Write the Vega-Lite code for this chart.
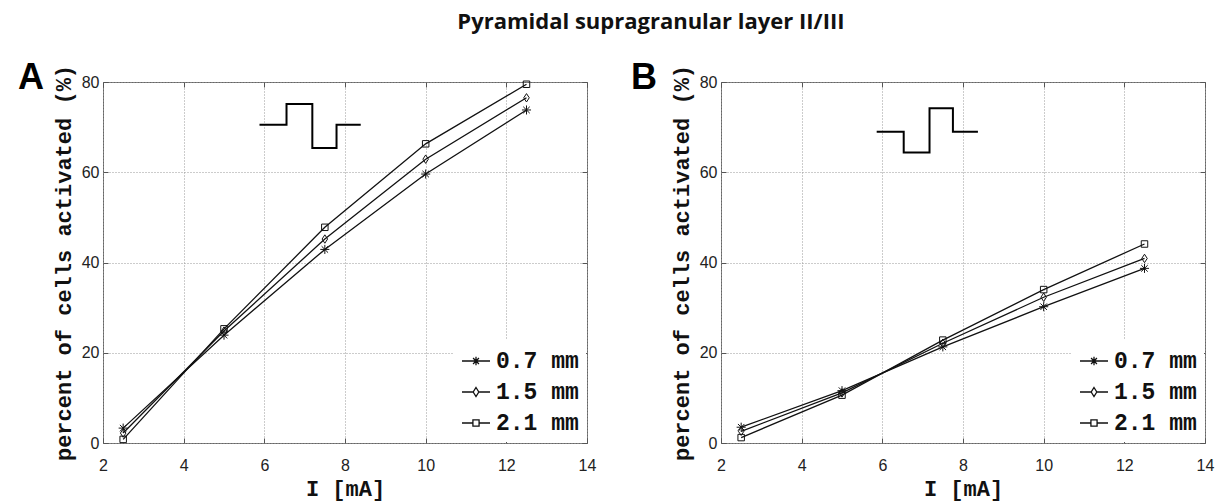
{
  "$schema": "https://vega.github.io/schema/vega-lite/v6.json",
  "background": "white",
  "padding": {"left": 17, "top": 10, "right": 5, "bottom": 2},
  "title": {"text": "Pyramidal supragranular  layer II/III", "font": "Open Sans", "fontSize": 22, "fontWeight": "bold", "color": "#111", "offset": 26, "anchor": "middle", "dx": 35},
  "datasets": {
    "curves": [
      {"panel": "A", "dist": "0.7 mm", "I": 2.5, "pct": 3.3},
      {"panel": "A", "dist": "0.7 mm", "I": 5, "pct": 23.9},
      {"panel": "A", "dist": "0.7 mm", "I": 7.5, "pct": 42.9},
      {"panel": "A", "dist": "0.7 mm", "I": 10, "pct": 59.6},
      {"panel": "A", "dist": "0.7 mm", "I": 12.5, "pct": 73.8},
      {"panel": "A", "dist": "1.5 mm", "I": 2.5, "pct": 2.2},
      {"panel": "A", "dist": "1.5 mm", "I": 5, "pct": 24.8},
      {"panel": "A", "dist": "1.5 mm", "I": 7.5, "pct": 45.2},
      {"panel": "A", "dist": "1.5 mm", "I": 10, "pct": 62.9},
      {"panel": "A", "dist": "1.5 mm", "I": 12.5, "pct": 76.5},
      {"panel": "A", "dist": "2.1 mm", "I": 2.5, "pct": 0.8},
      {"panel": "A", "dist": "2.1 mm", "I": 5, "pct": 25.3},
      {"panel": "A", "dist": "2.1 mm", "I": 7.5, "pct": 47.8},
      {"panel": "A", "dist": "2.1 mm", "I": 10, "pct": 66.3},
      {"panel": "A", "dist": "2.1 mm", "I": 12.5, "pct": 79.5},
      {"panel": "B", "dist": "0.7 mm", "I": 2.5, "pct": 3.5},
      {"panel": "B", "dist": "0.7 mm", "I": 5, "pct": 11.6},
      {"panel": "B", "dist": "0.7 mm", "I": 7.5, "pct": 21.3},
      {"panel": "B", "dist": "0.7 mm", "I": 10, "pct": 30.2},
      {"panel": "B", "dist": "0.7 mm", "I": 12.5, "pct": 38.7},
      {"panel": "B", "dist": "1.5 mm", "I": 2.5, "pct": 2.6},
      {"panel": "B", "dist": "1.5 mm", "I": 5, "pct": 11.1},
      {"panel": "B", "dist": "1.5 mm", "I": 7.5, "pct": 22.1},
      {"panel": "B", "dist": "1.5 mm", "I": 10, "pct": 32.3},
      {"panel": "B", "dist": "1.5 mm", "I": 12.5, "pct": 40.9},
      {"panel": "B", "dist": "2.1 mm", "I": 2.5, "pct": 1.2},
      {"panel": "B", "dist": "2.1 mm", "I": 5, "pct": 10.6},
      {"panel": "B", "dist": "2.1 mm", "I": 7.5, "pct": 22.8},
      {"panel": "B", "dist": "2.1 mm", "I": 10, "pct": 34.0},
      {"panel": "B", "dist": "2.1 mm", "I": 12.5, "pct": 44.1}
    ],
    "icons": [
      {"panel": "A", "seq": 1, "I": 5.88, "pct": 70.5},
      {"panel": "A", "seq": 2, "I": 6.55, "pct": 70.5},
      {"panel": "A", "seq": 3, "I": 6.55, "pct": 75.1},
      {"panel": "A", "seq": 4, "I": 7.19, "pct": 75.1},
      {"panel": "A", "seq": 5, "I": 7.19, "pct": 65.4},
      {"panel": "A", "seq": 6, "I": 7.79, "pct": 65.4},
      {"panel": "A", "seq": 7, "I": 7.79, "pct": 70.5},
      {"panel": "A", "seq": 8, "I": 8.39, "pct": 70.5},
      {"panel": "B", "seq": 1, "I": 5.86, "pct": 69.0},
      {"panel": "B", "seq": 2, "I": 6.53, "pct": 69.0},
      {"panel": "B", "seq": 3, "I": 6.53, "pct": 64.4},
      {"panel": "B", "seq": 4, "I": 7.17, "pct": 64.4},
      {"panel": "B", "seq": 5, "I": 7.17, "pct": 74.2},
      {"panel": "B", "seq": 6, "I": 7.75, "pct": 74.2},
      {"panel": "B", "seq": 7, "I": 7.75, "pct": 69.0},
      {"panel": "B", "seq": 8, "I": 8.37, "pct": 69.0}
    ]
  },
  "spacing": 33,
  "resolve": {"scale": {"shape": "independent"}, "legend": {"shape": "independent"}},
  "hconcat": [
    {
      "width": 484, "height": 361,
      "title": {"text": "A", "anchor": "start", "frame": "group", "dx": -85, "dy": 61, "offset": 0, "baseline": "alphabetic", "fontSize": 36, "font": "Liberation Sans", "fontWeight": "bold", "color": "black"},
      "resolve": {"axis": {"x": "independent", "y": "independent"}, "scale": {"shape": "independent"}, "legend": {"shape": "independent"}},
      "layer": [
        {
          "data": {"name": "icons"},
          "transform": [{"filter": "datum.panel === 'A'"}],
          "mark": {"type": "line", "stroke": "black", "strokeWidth": 2},
          "encoding": {
            "x": {"field": "I", "type": "quantitative", "scale": {"domain": [2, 14], "nice": false},
              "axis": {"orient": "bottom", "values": [2, 4, 6, 8, 10, 12, 14], "title": "I [mA]"}},
            "y": {"field": "pct", "type": "quantitative", "scale": {"domain": [0, 80], "nice": false},
              "axis": {"orient": "left", "values": [0, 20, 40, 60, 80], "title": "percent of cells activated (%)"}},
            "order": {"field": "seq", "type": "quantitative"}
          }
        },
        {
          "data": {"name": "curves"},
          "transform": [{"filter": "datum.panel === 'A'"}],
          "mark": {"type": "line", "stroke": "#111", "strokeWidth": 1.3},
          "encoding": {
            "x": {"field": "I", "type": "quantitative",
              "axis": {"orient": "top", "values": [2, 4, 6, 8, 10, 12, 14], "labels": false, "grid": false, "title": null}},
            "y": {"field": "pct", "type": "quantitative",
              "axis": {"orient": "right", "values": [0, 20, 40, 60, 80], "labels": false, "grid": false, "title": null}},
            "detail": {"field": "dist", "type": "nominal"}
          }
        },
        {
          "data": {"name": "curves"},
          "transform": [{"filter": "datum.panel === 'A'"}],
          "mark": {"type": "point", "filled": false, "stroke": "#111", "strokeWidth": 1, "size": 42, "opacity": 1},
          "encoding": {
            "x": {"field": "I", "type": "quantitative", "axis": null},
            "y": {"field": "pct", "type": "quantitative", "axis": null},
            "shape": {"field": "dist", "type": "nominal",
              "scale": {"domain": ["0.7 mm", "1.5 mm", "2.1 mm"], "range": ["M-1.4,0L1.4,0M0,-1.4L0,1.4M-1,-1L1,1M-1,1L1,-1", "M0,-1.3L0.85,0L0,1.3L-0.85,0Z", "M-1,-1H1V1H-1Z"]},
              "legend": null}
          }
        },
        {
          "data": {"name": "curves"},
          "transform": [{"filter": "datum.panel === 'A'"}],
          "mark": {"type": "point", "filled": false, "stroke": "#111", "strokeWidth": 1, "size": 0, "opacity": 1},
          "encoding": {
            "x": {"field": "I", "type": "quantitative", "axis": null},
            "y": {"field": "pct", "type": "quantitative", "axis": null},
            "shape": {"field": "dist", "type": "nominal",
              "scale": {"domain": ["0.7 mm", "1.5 mm", "2.1 mm"], "range": ["M-1,0L1,0M-0.3,0L0.3,0M0,-0.3L0,0.3M-0.21,-0.21L0.21,0.21M-0.21,0.21L0.21,-0.21", "M-1,0L-0.2,0M0.2,0L1,0M0,-0.32L0.2,0L0,0.32L-0.2,0Z", "M-1,0L-0.22,0M0.22,0L1,0M-0.22,-0.22H0.22V0.22H-0.22Z"]},
              "legend": {}}
          }
        }
      ]
    },
    {
      "width": 484, "height": 361,
      "title": {"text": "B", "anchor": "start", "frame": "group", "dx": -90, "dy": 61, "offset": 0, "baseline": "alphabetic", "fontSize": 36, "font": "Liberation Sans", "fontWeight": "bold", "color": "black"},
      "resolve": {"axis": {"x": "independent", "y": "independent"}, "scale": {"shape": "independent"}, "legend": {"shape": "independent"}},
      "layer": [
        {
          "data": {"name": "icons"},
          "transform": [{"filter": "datum.panel === 'B'"}],
          "mark": {"type": "line", "stroke": "black", "strokeWidth": 2},
          "encoding": {
            "x": {"field": "I", "type": "quantitative", "scale": {"domain": [2, 14], "nice": false},
              "axis": {"orient": "bottom", "values": [2, 4, 6, 8, 10, 12, 14], "title": "I [mA]"}},
            "y": {"field": "pct", "type": "quantitative", "scale": {"domain": [0, 80], "nice": false},
              "axis": {"orient": "left", "values": [0, 20, 40, 60, 80], "title": "percent of cells activated (%)"}},
            "order": {"field": "seq", "type": "quantitative"}
          }
        },
        {
          "data": {"name": "curves"},
          "transform": [{"filter": "datum.panel === 'B'"}],
          "mark": {"type": "line", "stroke": "#111", "strokeWidth": 1.3},
          "encoding": {
            "x": {"field": "I", "type": "quantitative",
              "axis": {"orient": "top", "values": [2, 4, 6, 8, 10, 12, 14], "labels": false, "grid": false, "title": null}},
            "y": {"field": "pct", "type": "quantitative",
              "axis": {"orient": "right", "values": [0, 20, 40, 60, 80], "labels": false, "grid": false, "title": null}},
            "detail": {"field": "dist", "type": "nominal"}
          }
        },
        {
          "data": {"name": "curves"},
          "transform": [{"filter": "datum.panel === 'B'"}],
          "mark": {"type": "point", "filled": false, "stroke": "#111", "strokeWidth": 1, "size": 42, "opacity": 1},
          "encoding": {
            "x": {"field": "I", "type": "quantitative", "axis": null},
            "y": {"field": "pct", "type": "quantitative", "axis": null},
            "shape": {"field": "dist", "type": "nominal",
              "scale": {"domain": ["0.7 mm", "1.5 mm", "2.1 mm"], "range": ["M-1.4,0L1.4,0M0,-1.4L0,1.4M-1,-1L1,1M-1,1L1,-1", "M0,-1.3L0.85,0L0,1.3L-0.85,0Z", "M-1,-1H1V1H-1Z"]},
              "legend": null}
          }
        },
        {
          "data": {"name": "curves"},
          "transform": [{"filter": "datum.panel === 'B'"}],
          "mark": {"type": "point", "filled": false, "stroke": "#111", "strokeWidth": 1, "size": 0, "opacity": 1},
          "encoding": {
            "x": {"field": "I", "type": "quantitative", "axis": null},
            "y": {"field": "pct", "type": "quantitative", "axis": null},
            "shape": {"field": "dist", "type": "nominal",
              "scale": {"domain": ["0.7 mm", "1.5 mm", "2.1 mm"], "range": ["M-1,0L1,0M-0.3,0L0.3,0M0,-0.3L0,0.3M-0.21,-0.21L0.21,0.21M-0.21,0.21L0.21,-0.21", "M-1,0L-0.2,0M0.2,0L1,0M0,-0.32L0.2,0L0,0.32L-0.2,0Z", "M-1,0L-0.22,0M0.22,0L1,0M-0.22,-0.22H0.22V0.22H-0.22Z"]},
              "legend": {}}
          }
        }
      ]
    }
  ],
  "config": {
    "view": {"stroke": "#666", "strokeWidth": 1},
    "axis": {
      "grid": true, "gridColor": "#999", "gridDash": [1, 2], "gridWidth": 1,
      "domain": false, "ticks": true, "tickSize": -5, "tickColor": "#555", "tickWidth": 1,
      "labelFont": "Liberation Sans", "labelFontSize": 16, "labelColor": "#222", "labelFlush": false,
      "titleFont": "Liberation Mono", "titleFontSize": 22, "titleFontWeight": "bold", "titleColor": "#111"
    },
    "axisBottom": {"labelPadding": 19, "titlePadding": 5},
    "axisLeft": {"labelPadding": 9, "titlePadding": 6},
    "legend": {
      "orient": "bottom-right", "offset": 1, "title": null, "fillColor": "white",
      "padding": 7, "rowPadding": 4,
      "labelFont": "Liberation Mono", "labelFontSize": 23, "labelFontWeight": "bold", "labelColor": "#111", "labelOffset": 5,
      "symbolSize": 784, "symbolStrokeWidth": 1.3, "symbolStrokeColor": "#111", "symbolFillColor": "white", "symbolOpacity": 1,
      "labelLimit": 300
    }
  }
}
